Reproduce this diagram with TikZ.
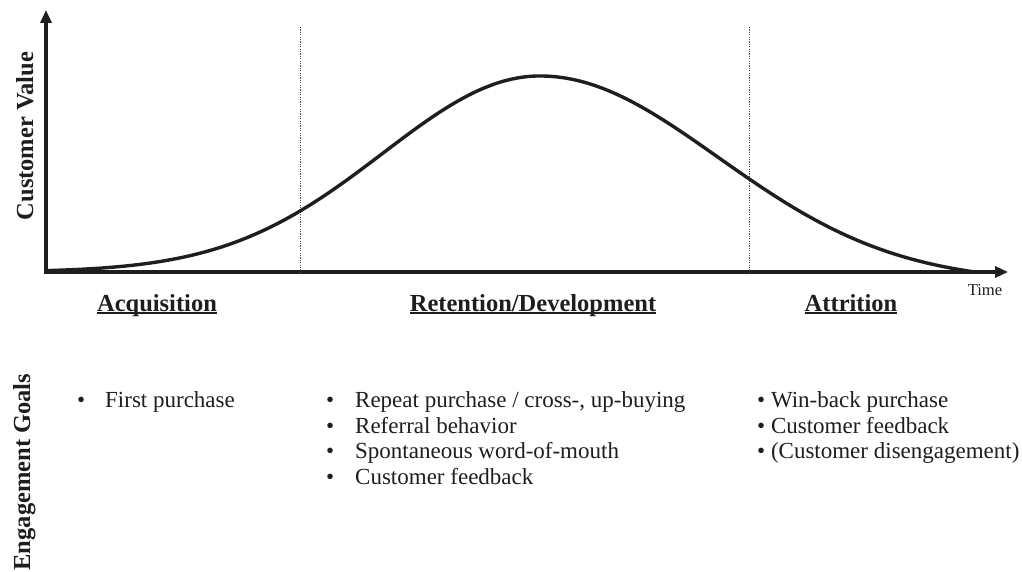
\documentclass[tikz,border=0pt]{standalone}
\usepackage{fontspec}
\setmainfont{Liberation Serif}
\usetikzlibrary{arrows.meta}
\definecolor{ink}{HTML}{1E1E1E}
\newcommand\myul[1]{\setbox0\hbox{#1}\rlap{\rule[-3pt]{\wd0}{1.8pt}}\box0}
\tikzset{
  axis/.style={line width=3.2pt, draw=ink, line join=miter,
    {Triangle[length=13pt,width=11pt]}-{Triangle[length=13pt,width=11pt]}},
  curve/.style={line width=3.4pt, draw=ink, line cap=round},
  divider/.style={line width=0.8pt, draw=ink!80, dash pattern=on 1.2pt off 1.2pt},
  heading/.style={font=\fontsize{24.5}{28}\selectfont\bfseries, text=ink, inner sep=0pt, anchor=base},
  sidelabel/.style={font=\fontsize{24.5}{28}\selectfont\bfseries, text=ink, inner sep=0pt, anchor=base, rotate=90},
  goal/.style={font=\fontsize{23}{26}\selectfont, text=ink, inner sep=0pt, anchor=base west},
  small/.style={font=\fontsize{16.6}{19}\selectfont, text=ink, inner sep=0pt, anchor=base},
}
\newcommand\bb[1]{\makebox[#1][l]{•}}
\begin{document}
\begin{tikzpicture}[x=1pt,y=-1pt]
\useasboundingbox (0,0) rectangle (1022,572);
\coordinate (ytip) at (46,10);
\coordinate (origin) at (46,272);
\coordinate (xtip) at (1008,272);
\draw[axis] (ytip) -- (origin) -- (xtip);
% dividers
\coordinate (d1t) at (300,27); \coordinate (d1b) at (300,272);
\coordinate (d2t) at (749,27); \coordinate (d2b) at (749,272);
\draw[divider] (d1t) -- (d1b);
\draw[divider] (d2t) -- (d2b);
% curve
\draw[curve] plot[domain=46:540, samples=120, smooth] (\x, {272-196*exp(-((\x-540)/157)^2/2)})
  -- plot[domain=540:975, samples=120, smooth] (\x, {272-196*(exp(-((\x-540)/178)^2/2)-0.0505)/0.9495});
% labels
\node[sidelabel] (cv) at (33,136) {Customer Value};
\node[sidelabel] (eg) at (30,472) {Engagement Goals};
\node[small] (time) at (985,295) {Time};
\node[heading] (acq) at (157,311) {\myul{Acquisition}};
\node[heading] (ret) at (533,311) {\myul{Retention/Development}};
\node[heading] (att) at (851,311) {\myul{Attrition}};
% goals
\node[goal] (a1) at (77,407) {\bb{28pt}First purchase};
\node[goal] (r1) at (326,407) {\bb{29pt}Repeat purchase / cross-, up-buying};
\node[goal] (r2) at (326,433) {\bb{29pt}Referral behavior};
\node[goal] (r3) at (326,458.5) {\bb{29pt}Spontaneous word-of-mouth};
\node[goal] (r4) at (326,484) {\bb{29pt}Customer feedback};
\node[goal] (t1) at (757,407) {• Win-back purchase};
\node[goal] (t2) at (757,433) {• Customer feedback};
\node[goal] (t3) at (757,458.5) {• (Customer disengagement)};
\end{tikzpicture}
\end{document}
